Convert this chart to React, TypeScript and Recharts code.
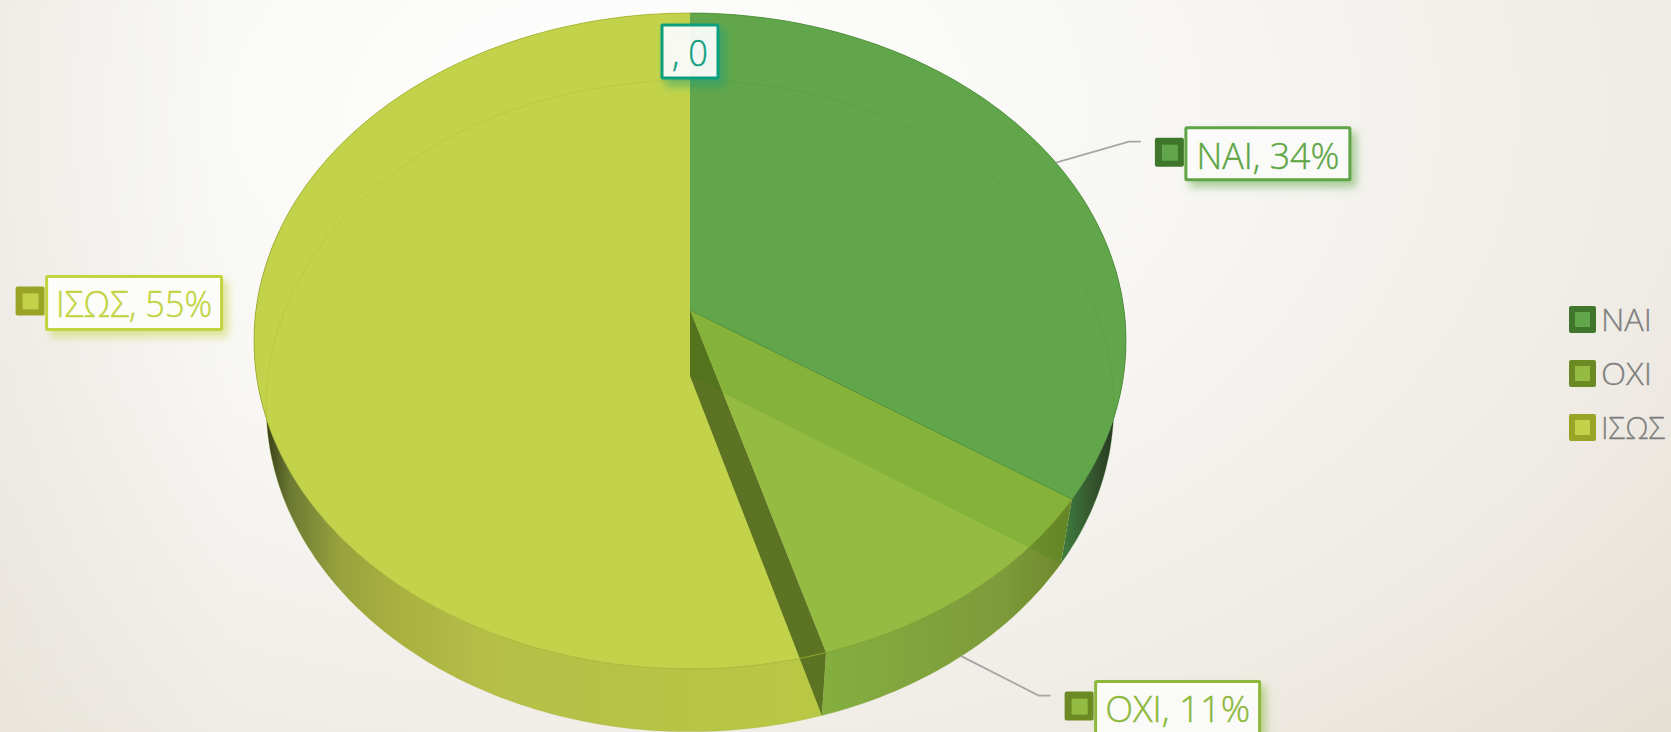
import React from "react";
import { PieChart, Pie, Cell, Legend } from "recharts";

const categories = ["ΝΑΙ", "ΟΧΙ", "ΙΣΩΣ", ""];
const shares = [34.3, 11.1, 54.6, 0];
const legendNames = ["ΝΑΙ", "ΟΧΙ", "ΙΣΩΣ"];

const COLORS = ["#62a64c", "#94bc42", "#c2d34b", "#0f9e7e"];
const DARK_COLORS = ["#3f762b", "#6b8a24", "#99a326", "#0f9e7e"];
const TEXT_COLORS = ["#5ea544", "#8db83a", "#c2d33f", "#0f9e7e"];
const RIM_COLORS = ["#4f8f3a", "#7f9a25", "#a3b030", "#0f9e7e"];

const chartData = categories.map((name, i) => ({ name, value: shares[i] }));

const RADIAN = Math.PI / 180;
const WIDTH = 1671;
const HEIGHT = 732;
const CX = 690;
const CY = 310;
const RADIUS = 434;
const FONT = "'Open Sans', sans-serif";

// the top face and the base of the tilted disc, seen in perspective
const TOP_FACE = { drop: 0, rx: 434, ry: 325, k: 0.0945 };
const BASE_FACE = { drop: 66, rx: 422, ry: 323, k: 0.0918 };

type Face = typeof TOP_FACE;

const project = (cx: number, cy: number, angle: number, face: Face) => {
  const u = Math.cos(angle * RADIAN);
  const v = -Math.sin(angle * RADIAN);
  const w = 1 - face.k * v;
  return [cx + (face.rx * u) / w, cy + face.drop + (face.ry * v) / w];
};

const arcPoints = (cx: number, cy: number, from: number, to: number, face: Face) => {
  const pts: number[][] = [];
  for (let a = from; a > to; a -= 1) pts.push(project(cx, cy, a, face));
  pts.push(project(cx, cy, to, face));
  return pts;
};

const toPath = (pts: number[][], close = true) =>
  pts.map((p, i) => `${i ? "L" : "M"}${p[0].toFixed(1)},${p[1].toFixed(1)}`).join(" ") + (close ? " Z" : "");

const renderWall = (props: any) => {
  const { cx, cy, startAngle, endAngle, name } = props;
  if (startAngle === endAngle) return <g />;
  const top = arcPoints(cx, cy, startAngle, endAngle, TOP_FACE);
  const base = arcPoints(cx, cy, startAngle, endAngle, BASE_FACE).reverse();
  return <path d={toPath([...top, ...base])} fill={`url(#wall-${categories.indexOf(name)})`} />;
};

const renderTop = (props: any) => {
  const { cx, cy, startAngle, endAngle, fill } = props;
  if (startAngle === endAngle) return <g />;
  return <path d={toPath([[cx, cy], ...arcPoints(cx, cy, startAngle, endAngle, TOP_FACE)])} fill={fill} />;
};

const endWall = (props: any) => {
  const { cx, cy, endAngle } = props;
  return toPath([
    [cx, cy],
    project(cx, cy, endAngle, TOP_FACE),
    project(cx, cy, endAngle, BASE_FACE),
    [cx, cy + BASE_FACE.drop],
  ]);
};

// dark cut face at the end of the second slice
const renderCutFace = (props: any) => {
  if (categories.indexOf(props.name) !== 1) return <g />;
  return <path d={endWall(props)} fill="#5b7323" />;
};

// translucent cut face at the end of the first slice
const renderTintFace = (props: any) => {
  if (categories.indexOf(props.name) !== 0) return <g />;
  return <path d={endWall(props)} fill="#2f7800" fillOpacity={0.15} />;
};

const renderRims = (props: any) => {
  const { cx, cy, startAngle, endAngle, name } = props;
  if (startAngle === endAngle) return <g />;
  const i = categories.indexOf(name);
  const top = arcPoints(cx, cy, startAngle, endAngle, TOP_FACE);
  const base = arcPoints(cx, cy, startAngle, endAngle, BASE_FACE);
  return (
    <g fill="none">
      <path d={toPath(base, false)} stroke={RIM_COLORS[i]} strokeOpacity={0.3} strokeWidth={1} />
      <path d={toPath(top, false)} stroke={RIM_COLORS[i]} strokeOpacity={0.8} strokeWidth={1} />
      {i === 0 && <path d={toPath([[cx, cy], top[top.length - 1]], false)} stroke={RIM_COLORS[0]} strokeWidth={1} />}
    </g>
  );
};

// label box offsets from the rim point of the slice, then box size and text width
const LABEL_LAYOUT = [
  { dx: 130, dy: -35, w: 164, h: 52, textW: 143, base: 41, leader: true },
  { dx: 126, dy: 89, w: 164, h: 52, textW: 145, base: 40, leader: true },
  { dx: -208, dy: -81, w: 175, h: 53, textW: 156, base: 41, leader: false },
  { dx: -28, dy: 12, w: 56, h: 53, textW: 36, base: 41, leader: false },
];

const renderLabel = (props: any) => {
  const { cx, cy, midAngle, name, value, percent, index } = props;
  const layout = LABEL_LAYOUT[index];
  const rim = project(cx, cy, midAngle, TOP_FACE);
  const x = rim[0] + layout.dx;
  const y = rim[1] + layout.dy;
  const start = index === 1 ? project(cx, cy, midAngle, BASE_FACE) : rim;
  const text = value === 0 ? `${name}, 0` : `${name}, ${Math.round(percent * 100)}%`;
  return (
    <g>
      {layout.leader && (
        <polyline
          points={`${start[0]},${start[1]} ${x - 57},${y + 14} ${x - 45},${y + 14}`}
          fill="none"
          stroke="#a6a6a6"
          strokeWidth={1.8}
        />
      )}
      {index < 3 && (
        <g>
          <rect x={x - 31} y={y + 10} width={29} height={29} rx={2} fill={DARK_COLORS[index]} />
          <rect x={x - 24} y={y + 17} width={16} height={16} fill={COLORS[index]} />
        </g>
      )}
      <rect
        x={x}
        y={y}
        width={layout.w}
        height={layout.h}
        rx={1}
        fill="#ffffff"
        fillOpacity={0.9}
        stroke={TEXT_COLORS[index]}
        strokeWidth={3}
        filter={`url(#shadow-${index})`}
      />
      <text
        x={x + (layout.w - layout.textW) / 2}
        y={y + layout.base}
        fill={TEXT_COLORS[index]}
        stroke={TEXT_COLORS[index]}
        strokeWidth={0.4}
        fontFamily={FONT}
        fontWeight={300}
        fontSize={37}
        textLength={layout.textW}
        lengthAdjust="spacingAndGlyphs"
      >
        {text}
      </text>
    </g>
  );
};

const LEGEND_TEXT_WIDTHS = [51, 51, 64];

const renderLegend = () => (
  <div style={{ display: "flex", flexDirection: "column" }}>
    {legendNames.map((name, i) => (
      <div key={name} style={{ display: "flex", alignItems: "center", height: 54 }}>
        <div
          style={{
            width: 27,
            height: 27,
            boxSizing: "border-box",
            borderRadius: 2,
            border: `6px solid ${DARK_COLORS[i]}`,
            background: COLORS[i],
          }}
        />
        <svg width={75} height={54} style={{ display: "block" }}>
          <text
            x={5}
            y={39}
            fill="#7f7f7f"
            stroke="#7f7f7f"
            strokeWidth={0.3}
            fontFamily={FONT}
            fontWeight={300}
            fontSize={32}
            textLength={LEGEND_TEXT_WIDTHS[i]}
            lengthAdjust="spacingAndGlyphs"
          >
            {name}
          </text>
        </svg>
      </div>
    ))}
  </div>
);

const pieProps = {
  data: chartData,
  dataKey: "value",
  nameKey: "name",
  cx: CX,
  cy: CY,
  outerRadius: RADIUS,
  startAngle: 90,
  endAngle: -270,
  stroke: "none",
  isAnimationActive: false,
};

export default function App() {
  return (
    <div
      style={{
        position: "absolute",
        left: 0,
        top: 0,
        width: WIDTH,
        height: HEIGHT,
        overflow: "hidden",
        background:
          "linear-gradient(90deg, rgba(222,216,204,0.3) 0%, rgba(222,216,204,0) 14%), radial-gradient(ellipse 1500px 950px at 600px 110px, #ffffff 0%, #f7f6f3 40%, #eeeae3 76%, #e4ddd1 100%)",
      }}
    >
      <PieChart width={WIDTH} height={HEIGHT} margin={{ top: 0, right: 0, bottom: 0, left: 0 }}>
        <defs>
          <linearGradient id="wall-0" gradientUnits="userSpaceOnUse" x1={1060} x2={1125} y1={0} y2={0}>
            <stop offset="0%" stopColor="#3f8040" />
            <stop offset="50%" stopColor="#35562e" />
            <stop offset="100%" stopColor="#1f2a1a" />
          </linearGradient>
          <linearGradient id="wall-1" gradientUnits="userSpaceOnUse" x1={825} x2={1062} y1={0} y2={0}>
            <stop offset="0%" stopColor="#84ae40" />
            <stop offset="75%" stopColor="#7d9b3a" />
            <stop offset="100%" stopColor="#6f8a2e" />
          </linearGradient>
          <linearGradient id="wall-2" gradientUnits="userSpaceOnUse" x1={262} x2={825} y1={0} y2={0}>
            <stop offset="0%" stopColor="#2f3514" />
            <stop offset="5%" stopColor="#6c7a33" />
            <stop offset="14%" stopColor="#98a33e" />
            <stop offset="24%" stopColor="#a9b03f" />
            <stop offset="40%" stopColor="#b5bf48" />
            <stop offset="100%" stopColor="#b8c844" />
          </linearGradient>
          {TEXT_COLORS.map((color, i) => (
            <filter key={color} id={`shadow-${i}`} x="-20%" y="-30%" width="140%" height="170%">
              <feDropShadow dx={5} dy={6} stdDeviation={4} floodColor={color} floodOpacity={0.55} />
            </filter>
          ))}
        </defs>
        <Pie {...pieProps} shape={renderWall} />
        <Pie {...pieProps} shape={renderTop}>
          {chartData.map((entry, index) => (
            <Cell key={`cell-${entry.name}-${index}`} fill={COLORS[index]} />
          ))}
        </Pie>
        <Pie {...pieProps} shape={renderCutFace} />
        <Pie {...pieProps} shape={renderTintFace} />
        <Pie {...pieProps} shape={renderRims} label={renderLabel} labelLine={false} />
        <Legend
          layout="vertical"
          align="right"
          verticalAlign="top"
          content={renderLegend}
          wrapperStyle={{ left: 1569, top: 292, width: 102 }}
        />
      </PieChart>
    </div>
  );
}
